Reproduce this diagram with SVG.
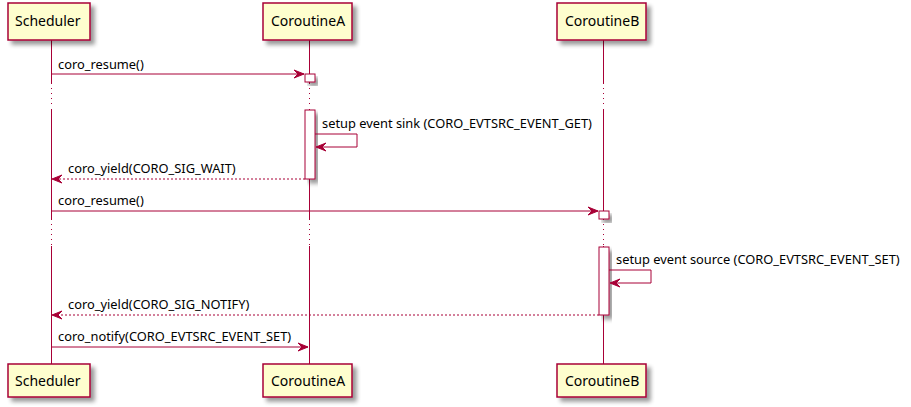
<svg xmlns="http://www.w3.org/2000/svg" width="911" height="407" viewBox="0 0 911 407">
<defs>
<filter id="sh" x="-20%" y="-20%" width="150%" height="160%">
<feGaussianBlur in="SourceAlpha" stdDeviation="2" result="b"/>
<feOffset in="b" dx="4" dy="4" result="o"/>
<feComponentTransfer in="o" result="c"><feFuncA type="linear" slope="0.4"/></feComponentTransfer>
<feFlood flood-color="#000000" result="f"/>
<feComposite in="f" in2="c" operator="in" result="s"/>
<feMerge><feMergeNode in="s"/><feMergeNode in="SourceGraphic"/></feMerge>
</filter>
</defs>
<style>
.box{fill:#FEFECE;stroke:#A80036;stroke-width:1.5}
.act{fill:#FFFFFF;stroke:#A80036;stroke-width:1}
.life{stroke:#A80036;stroke-width:1;fill:none}
.dot{stroke:#A80036;stroke-width:1;stroke-dasharray:1,4;fill:none}
.msg{stroke:#A80036;stroke-width:1;fill:none}
.ret{stroke:#A80036;stroke-width:1;stroke-dasharray:2,2;fill:none}
.head{fill:#A80036;stroke:#A80036;stroke-width:1}
.pt{font-family:"Noto Sans","DejaVu Sans",sans-serif;font-size:14px;fill:#000}
.mt{font-family:"Noto Sans","DejaVu Sans",sans-serif;font-size:12.85px;fill:#000}
</style>
<g id="lifelines">
<path class="life" d="M51.5,40 V84 M51.5,109 V220 M51.5,246 V364"/>
<path class="dot" d="M51.5,88 V108 M51.5,224 V245"/>
<path class="life" d="M309.5,40 V84 M309.5,109 V220 M309.5,246 V364"/>
<path class="dot" d="M309.5,88 V108 M309.5,224 V245"/>
<path class="life" d="M603.5,40 V84 M603.5,109 V220 M603.5,246 V364"/>
<path class="dot" d="M603.5,88 V108 M603.5,224 V245"/>
</g>
<g id="Scheduler">
<rect class="box" x="8" y="3" width="82" height="37" filter="url(#sh)"/>
<text class="pt" x="15" y="26">Scheduler</text>
<rect class="box" x="8" y="364" width="82" height="33" filter="url(#sh)"/>
<text class="pt" x="15" y="386">Scheduler</text>
</g>
<g id="CoroutineA">
<rect class="box" x="263" y="3" width="89" height="37" filter="url(#sh)"/>
<text class="pt" x="271" y="26">CoroutineA</text>
<rect class="box" x="263" y="364" width="89" height="33" filter="url(#sh)"/>
<text class="pt" x="271" y="386">CoroutineA</text>
<rect class="act" x="305" y="74" width="10" height="8" filter="url(#sh)"/>
<rect class="act" x="305" y="110" width="10" height="69" filter="url(#sh)"/>
</g>
<g id="CoroutineB">
<rect class="box" x="557" y="3" width="89" height="37" filter="url(#sh)"/>
<text class="pt" x="565" y="26">CoroutineB</text>
<rect class="box" x="557" y="364" width="89" height="33" filter="url(#sh)"/>
<text class="pt" x="565" y="386">CoroutineB</text>
<rect class="act" x="599" y="211" width="10" height="8" filter="url(#sh)"/>
<rect class="act" x="599" y="247" width="10" height="68" filter="url(#sh)"/>
</g>
<g id="connectors">
<line class="msg" x1="51.5" y1="74" x2="304" y2="74"/>
<polygon class="head" points="294,70 304,74 294,78 298,74"/>
<text class="mt" x="58" y="69">coro_resume()</text>

<path class="msg" d="M315,134 H357 V147 H317"/>
<polygon class="head" points="326,143 316,147 326,151 322,147"/>
<text class="mt" x="322" y="128">setup event sink (CORO_EVTSRC_EVENT_GET)</text>

<line class="ret" x1="305" y1="179" x2="53" y2="179"/>
<polygon class="head" points="62,175 52,179 62,183 58,179"/>
<text class="mt" x="68" y="173">coro_yield(CORO_SIG_WAIT)</text>

<line class="msg" x1="51.5" y1="211" x2="598" y2="211"/>
<polygon class="head" points="588,207 598,211 588,215 592,211"/>
<text class="mt" x="58" y="205">coro_resume()</text>

<path class="msg" d="M609,270 H651 V283 H611"/>
<polygon class="head" points="620,279 610,283 620,287 616,283"/>
<text class="mt" x="616" y="264">setup event source (CORO_EVTSRC_EVENT_SET)</text>

<line class="ret" x1="599" y1="315" x2="53" y2="315"/>
<polygon class="head" points="62,311 52,315 62,319 58,315"/>
<text class="mt" x="68" y="309">coro_yield(CORO_SIG_NOTIFY)</text>

<line class="msg" x1="51.5" y1="347" x2="308" y2="347"/>
<polygon class="head" points="298,343 308,347 298,351 302,347"/>
<text class="mt" x="58" y="341">coro_notify(CORO_EVTSRC_EVENT_SET)</text>
</g>
</svg>
